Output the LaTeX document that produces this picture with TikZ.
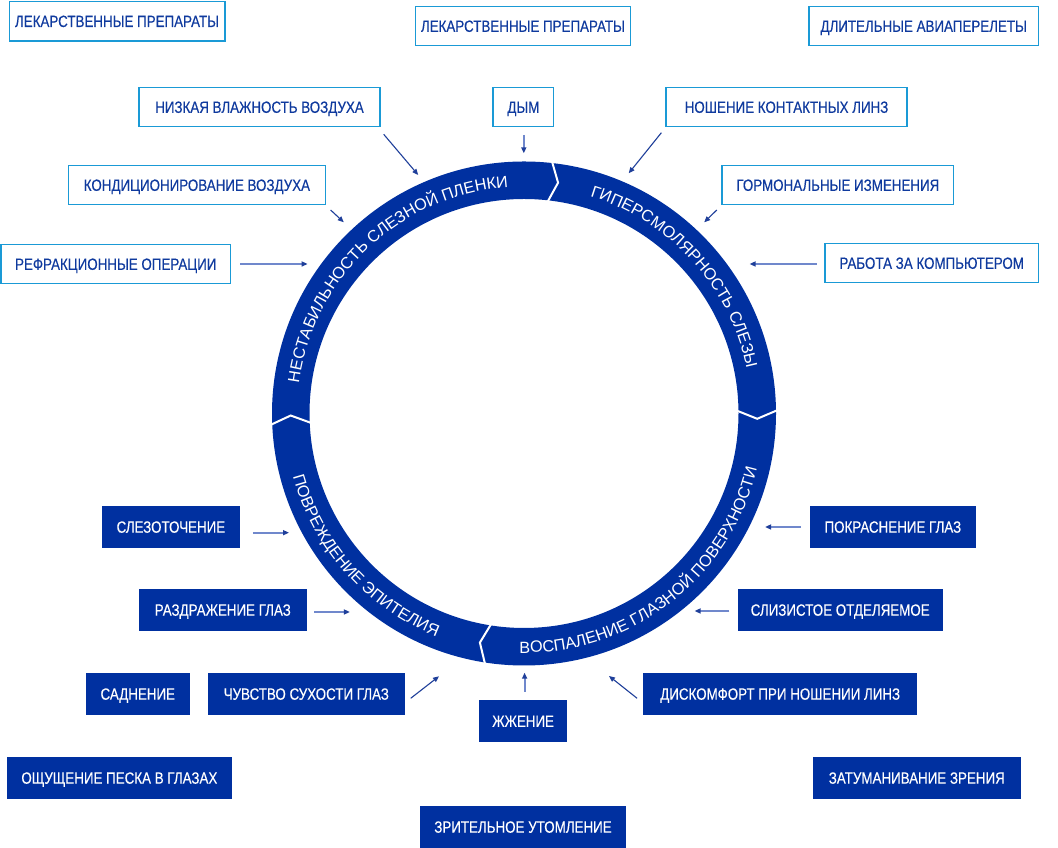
\documentclass[tikz,border=0pt]{standalone}
\usepackage{fontspec}
\setmainfont{Liberation Sans}
\newfontfamily\boxfont{Liberation Sans}[FakeStretch=0.82, FakeBold=0.3]
\usetikzlibrary{decorations.text, arrows.meta, calc}
\definecolor{ringblue}{HTML}{0030A0}
\definecolor{outlineblue}{HTML}{1A9AD6}
\definecolor{outlinetext}{HTML}{0F3A9E}
\definecolor{arrowdark}{HTML}{1F3F9A}
\definecolor{arrowlight}{HTML}{7088CC}
\newcommand\ringtextfont{\fontsize{16.3}{18}\selectfont}
\tikzset{
  outbox/.style={draw=outlineblue, line width=1.5pt, fill=white, text=outlinetext,
    font=\boxfont\fontsize{16.3}{18}\selectfont, inner sep=0pt,
    text height=11.7pt, text depth=0pt, minimum height=39.3pt},
  solidbox/.style={fill=ringblue, text=white,
    font=\boxfont\fontsize{16.3}{18}\selectfont, inner sep=0pt,
    text height=11.7pt, text depth=0pt, minimum height=41.7pt},
  strarrow/.style={draw=arrowlight, line width=2pt,
    -{Triangle[length=6pt,width=5pt,color=arrowdark]}},
  diagarrow/.style={draw=arrowdark, line width=1.1pt,
    -{Triangle[length=6pt,width=5pt,color=arrowdark]}},
  divider/.style={draw=white, line width=2pt, line join=miter},
}
\begin{document}
\begin{tikzpicture}[x=1pt,y=1pt]
\useasboundingbox (0,0) rectangle (1058,848);
\fill[white] (0,0) rectangle (1058,848);

% ring
\coordinate (c) at (524,434.5);
\fill[ringblue, even odd rule] (c) circle[radius=252] (c) circle[radius=214.5];

% dividers (chevrons pointing clockwise)
\foreach \t in {83.7, 0.8, 261.2, 182.6}{
  \draw[divider] ($(c)+(\t:254)$) -- ($(c)+(\t-2.1:233.3)$) -- ($(c)+(\t:212.5)$);
}

% ring texts
\path[decorate, decoration={text along path, text align=center,
  text={|\color{white}\ringtextfont|НЕСТАБИЛЬНОСТЬ СЛЕЗНОЙ ПЛЕНКИ}}]
  ($(c)+(182.6:227)$) arc[start angle=182.6, end angle=83.7, radius=227];
\path[decorate, decoration={text along path, text align=center,
  text={|\color{white}\ringtextfont|ГИПЕРСМОЛЯРНОСТЬ СЛЕЗЫ}}]
  ($(c)+(83.7:227)$) arc[start angle=83.7, end angle=0.8, radius=227];
\path[decorate, decoration={text along path, text align=center,
  text={|\color{white}\ringtextfont|ВОСПАЛЕНИЕ ГЛАЗНОЙ ПОВЕРХНОСТИ}}]
  ($(c)+(258:239.5)$) arc[start angle=258, end angle=357.6, radius=239.5];
\path[decorate, decoration={text along path, text align=center,
  text={|\color{white}\ringtextfont|ПОВРЕЖДЕНИЕ ЭПИТЕЛИЯ}}]
  ($(c)+(182.6:239.5)$) arc[start angle=182.6, end angle=261.2, radius=239.5];

% outline boxes
\node[outbox, minimum width=215.5pt] (lek1) at (117,826.85) {ЛЕКАРСТВЕННЫЕ ПРЕПАРАТЫ};
\node[outbox, minimum width=215.1pt] (lek2) at (522.9,822) {ЛЕКАРСТВЕННЫЕ ПРЕПАРАТЫ};
\node[outbox, minimum width=229.3pt] (dlit) at (923.7,822) {ДЛИТЕЛЬНЫЕ АВИАПЕРЕЛЕТЫ};
\node[outbox, minimum width=240.9pt] (nizk) at (259.5,741) {НИЗКАЯ ВЛАЖНОСТЬ ВОЗДУХА};
\node[outbox, minimum width=60.5pt] (dym) at (523.4,741) {ДЫМ};
\node[outbox, minimum width=241.1pt] (nosh) at (786.5,741) {НОШЕНИЕ КОНТАКТНЫХ ЛИНЗ};
\node[outbox, minimum width=257.1pt] (kond) at (196.9,663) {КОНДИЦИОНИРОВАНИЕ ВОЗДУХА};
\node[outbox, minimum width=231.4pt] (gorm) at (837.85,663) {ГОРМОНАЛЬНЫЕ ИЗМЕНЕНИЯ};
\node[outbox, minimum width=229.4pt] (refr) at (115.75,584) {РЕФРАКЦИОННЫЕ ОПЕРАЦИИ};
\node[outbox, minimum width=213.3pt] (rab) at (931.7,585) {РАБОТА ЗА КОМПЬЮТЕРОМ};

% solid boxes
\node[solidbox, minimum width=137.6pt] (slez) at (170.9,321.15) {СЛЕЗОТОЧЕНИЕ};
\node[solidbox, minimum width=165.7pt] (pokr) at (892.85,321.15) {ПОКРАСНЕНИЕ ГЛАЗ};
\node[solidbox, minimum width=167.6pt] (razd) at (222.8,238.15) {РАЗДРАЖЕНИЕ ГЛАЗ};
\node[solidbox, minimum width=204.8pt] (sliz) at (840.2,238.15) {СЛИЗИСТОЕ ОТДЕЛЯЕМОЕ};
\node[solidbox, minimum width=103.8pt] (sadn) at (137.8,154.15) {САДНЕНИЕ};
\node[solidbox, minimum width=196.8pt] (chuv) at (306.3,154.15) {ЧУВСТВО СУХОСТИ ГЛАЗ};
\node[solidbox, minimum width=274.4pt] (disk) at (780.2,154.15) {ДИСКОМФОРТ ПРИ НОШЕНИИ ЛИНЗ};
\node[solidbox, minimum width=88.5pt] (zhzh) at (523.15,127) {ЖЖЕНИЕ};
\node[solidbox, minimum width=224.5pt] (oshch) at (119.35,70.15) {ОЩУЩЕНИЕ ПЕСКА В ГЛАЗАХ};
\node[solidbox, minimum width=207.6pt] (zatum) at (916.8,70.15) {ЗАТУМАНИВАНИЕ ЗРЕНИЯ};
\node[solidbox, minimum width=205.6pt] (zrit) at (523,21.15) {ЗРИТЕЛЬНОЕ УТОМЛЕНИЕ};

% arrow end points
\coordinate (s1) at (383.7,713.7);  \coordinate (e1) at (418.2,673);
\coordinate (s2) at (330.6,638);    \coordinate (e2) at (343.8,625.7);
\coordinate (s3) at (240,584);      \coordinate (e3) at (307.6,584);
\coordinate (s4) at (523.8,713);    \coordinate (e4) at (523.8,694.7);
\coordinate (s5) at (661.4,715.3);  \coordinate (e5) at (628.7,674.7);
\coordinate (s6) at (716.8,638);    \coordinate (e6) at (704.2,625.7);
\coordinate (s7) at (816.7,584);    \coordinate (e7) at (749.6,584);
\coordinate (s8) at (252.9,315.3);  \coordinate (e8) at (289,315.3);
\coordinate (s9) at (314.4,236);    \coordinate (e9) at (349.9,236);
\coordinate (s10) at (410.7,149.7); \coordinate (e10) at (439,171.7);
\coordinate (s11) at (800.8,321);   \coordinate (e11) at (765.1,321);
\coordinate (s12) at (729.4,237);   \coordinate (e12) at (694.6,237);
\coordinate (s13) at (637.1,149.7); \coordinate (e13) at (609,172);
\coordinate (s14) at (524.6,156.3); \coordinate (e14) at (524.6,175.3);

\draw[diagarrow] (s1) -- (e1);
\draw[diagarrow] (s2) -- (e2);
\draw[strarrow] (s3) -- (e3);
\draw[strarrow] (s4) -- (e4);
\draw[diagarrow] (s5) -- (e5);
\draw[diagarrow] (s6) -- (e6);
\draw[strarrow] (s7) -- (e7);
\draw[strarrow] (s8) -- (e8);
\draw[strarrow] (s9) -- (e9);
\draw[diagarrow] (s10) -- (e10);
\draw[strarrow] (s11) -- (e11);
\draw[strarrow] (s12) -- (e12);
\draw[diagarrow] (s13) -- (e13);
\draw[strarrow] (s14) -- (e14);
\end{tikzpicture}
\end{document}
